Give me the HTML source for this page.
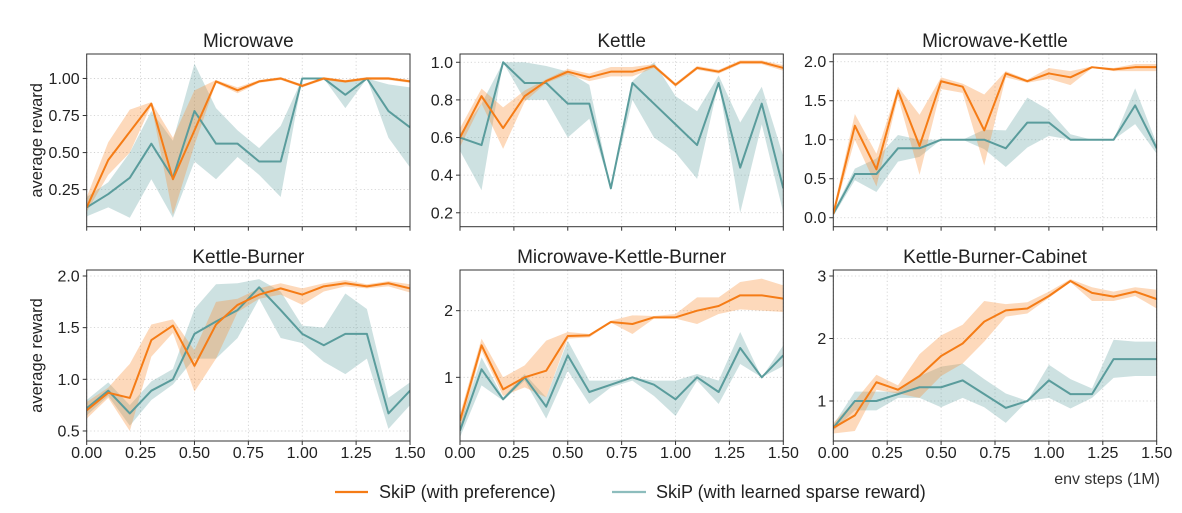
<!DOCTYPE html>
<html><head><meta charset="utf-8"><style>
body{margin:0;background:#fff;}
svg{display:block;font-family:"Liberation Sans",Arial,sans-serif;}
</style></head><body>
<svg id="fig" width="1182" height="513" viewBox="0 0 1182 513">
<g id="plots"></g>
<g>
<line x1="335" y1="492" x2="368" y2="492" stroke="#f57c16" stroke-width="2.2"/>
<text x="379" y="498" font-size="18" fill="#222">SkiP (with preference)</text>
<line x1="612" y1="492" x2="646" y2="492" stroke="#8dbdbd" stroke-width="2.2"/>
<text x="656" y="498" font-size="18" fill="#222">SkiP (with learned sparse reward)</text>
</g>
<text x="1160" y="484" text-anchor="end" font-size="16" fill="#333">env steps (1M)</text>
</svg>
<script>
const steps=[0,0.1,0.2,0.3,0.4,0.5,0.6,0.7,0.8,0.9,1.0,1.1,1.2,1.3,1.4,1.5];
const titles=["Microwave","Kettle","Microwave-Kettle","Kettle-Burner","Microwave-Kettle-Burner","Kettle-Burner-Cabinet"];
const prefMean=[
[0.13,0.45,0.64,0.83,0.32,0.65,0.98,0.92,0.98,1.0,0.95,1.0,0.98,1.0,1.0,0.98],
[0.6,0.82,0.65,0.82,0.9,0.95,0.92,0.95,0.95,0.98,0.88,0.97,0.95,1.0,1.0,0.97],
[0.05,1.18,0.62,1.63,0.92,1.75,1.68,1.12,1.85,1.75,1.85,1.8,1.93,1.9,1.93,1.93],
[0.7,0.87,0.82,1.38,1.52,1.13,1.53,1.72,1.82,1.88,1.82,1.9,1.93,1.9,1.93,1.88],
[0.35,1.48,0.82,1.0,1.1,1.62,1.63,1.83,1.8,1.9,1.9,2.0,2.07,2.23,2.23,2.18],
[0.57,0.77,1.3,1.18,1.4,1.72,1.92,2.27,2.45,2.48,2.68,2.92,2.73,2.67,2.75,2.63]];
const prefLo=[
[0.1,0.35,0.5,0.82,0.08,0.55,0.97,0.9,0.97,0.99,0.94,0.99,0.97,0.99,0.99,0.97],
[0.55,0.78,0.54,0.79,0.89,0.935,0.9,0.925,0.925,0.97,0.87,0.96,0.94,0.99,0.99,0.955],
[0.02,1.0,0.4,1.55,0.55,1.65,1.6,0.67,1.8,1.73,1.78,1.7,1.92,1.88,1.88,1.88],
[0.62,0.82,0.5,1.22,1.45,0.88,1.2,1.65,1.78,1.82,1.72,1.85,1.9,1.88,1.9,1.84],
[0.2,1.4,0.72,0.85,0.7,1.58,1.6,1.82,1.65,1.88,1.88,1.8,1.95,2.02,2.0,1.98],
[0.48,0.52,1.18,1.12,1.05,1.4,1.6,1.95,2.35,2.4,2.65,2.9,2.6,2.6,2.68,2.48]];
const prefHi=[
[0.2,0.57,0.79,0.84,0.6,0.92,0.99,0.94,0.99,1.01,0.96,1.01,0.99,1.01,1.01,0.99],
[0.65,0.86,0.76,0.85,0.91,0.965,0.94,0.975,0.975,0.99,0.89,0.98,0.96,1.01,1.01,0.985],
[0.1,1.33,0.82,1.68,1.32,1.8,1.72,1.58,1.88,1.77,1.92,1.88,1.94,1.92,1.97,1.97],
[0.78,0.92,1.15,1.53,1.58,1.28,1.75,1.78,1.88,1.93,1.88,1.93,1.96,1.92,1.95,1.92],
[0.45,1.58,1.0,1.18,1.55,1.68,1.65,1.85,1.93,1.92,1.95,2.2,2.2,2.43,2.48,2.38],
[0.65,1.0,1.42,1.25,1.75,2.05,2.22,2.6,2.55,2.58,2.75,2.95,2.82,2.75,2.82,2.78]];
const sparseMean=[
[0.13,0.22,0.33,0.56,0.33,0.78,0.56,0.56,0.44,0.44,1.0,1.0,0.89,1.0,0.78,0.67],
[0.6,0.56,1.0,0.89,0.89,0.78,0.78,0.33,0.89,0.78,0.67,0.56,0.89,0.44,0.78,0.33],
[0.05,0.56,0.56,0.89,0.89,1.0,1.0,1.0,0.89,1.22,1.22,1.0,1.0,1.0,1.44,0.89],
[0.72,0.89,0.67,0.89,1.0,1.44,1.56,1.67,1.89,1.67,1.44,1.33,1.44,1.44,0.67,0.89],
[0.2,1.12,0.67,1.0,0.56,1.33,0.78,0.89,1.0,0.89,0.67,1.0,0.78,1.44,1.0,1.33],
[0.57,1.0,1.0,1.11,1.22,1.22,1.33,1.11,0.89,1.0,1.33,1.11,1.11,1.67,1.67,1.67]];
const sparseLo=[
[0.07,0.13,0.06,0.32,0.06,0.44,0.32,0.47,0.35,0.2,1.0,1.0,0.8,1.0,0.6,0.4],
[0.53,0.32,1.0,0.8,0.8,0.6,0.7,0.33,0.8,0.6,0.52,0.38,0.89,0.2,0.67,0.2],
[0.02,0.48,0.33,0.72,0.78,1.0,1.0,0.88,0.65,0.9,1.05,1.0,1.0,1.0,1.2,0.82],
[0.65,0.84,0.55,0.8,0.95,1.2,1.2,1.4,1.78,1.4,1.35,1.17,1.05,1.2,0.52,0.75],
[0.1,0.88,0.65,0.95,0.38,1.1,0.6,0.85,0.95,0.72,0.42,0.95,0.6,1.2,1.0,1.17],
[0.52,0.85,0.85,1.05,1.05,0.9,1.05,0.9,0.65,1.0,1.05,0.88,1.05,1.37,1.4,1.4]];
const sparseHi=[
[0.2,0.3,0.5,0.78,0.58,1.1,0.8,0.65,0.53,0.68,1.0,1.0,0.98,1.0,0.96,0.94],
[0.62,0.78,1.0,1.0,0.98,0.95,0.88,0.33,0.9,1.0,0.82,0.74,0.93,0.68,0.87,0.5],
[0.08,0.63,0.76,1.06,1.0,1.0,1.0,1.13,1.12,1.54,1.38,1.07,1.0,1.0,1.66,0.95],
[0.8,0.97,0.75,0.98,1.1,1.68,1.92,1.93,1.97,1.85,1.52,1.5,1.83,1.68,0.82,0.97],
[0.3,1.3,0.7,1.05,0.7,1.55,0.95,0.95,1.0,0.95,0.95,1.05,0.95,1.68,1.0,1.48],
[0.62,1.15,1.15,1.15,1.4,1.55,1.6,1.35,1.12,1.0,1.58,1.35,1.2,1.98,1.95,1.95]];
const yDomains=[[0,1.165],[0.126,1.044],[-0.115,2.099],[0.403,2.058],[0.045,2.61],[0.36,3.096]];
const yTicks=[[0.25,0.5,0.75,1.0],[0.2,0.4,0.6,0.8,1.0],[0,0.5,1.0,1.5,2.0],[0.5,1.0,1.5,2.0],[1,2],[1,2,3]];
const yTickLabels=[["0.25","0.50","0.75","1.00"],["0.2","0.4","0.6","0.8","1.0"],["0.0","0.5","1.0","1.5","2.0"],["0.5","1.0","1.5","2.0"],["1","2"],["1","2","3"]];
const xTicks=[0,0.25,0.5,0.75,1.0,1.25,1.5];
const xTickLabels=["0.00","0.25","0.50","0.75","1.00","1.25","1.50"];

const NS="http://www.w3.org/2000/svg";
const root=document.getElementById('plots');
const lefts=[86.7,460,833.3],widths=[323.3,323.3,323.4];
const tops=[54,270],heights=[172.7,171];
function mk(tag,attrs,parent){const e=document.createElementNS(NS,tag);for(const k in attrs)e.setAttribute(k,attrs[k]);parent.appendChild(e);return e;}
for(let p=0;p<6;p++){
  const r=Math.floor(p/3),c=p%3;
  const L=lefts[c],W=widths[c],T=tops[r],H=heights[r];
  const [y0,y1]=yDomains[p];
  const sx=v=>L+v/1.5*W;
  const sy=v=>T+H-(v-y0)/(y1-y0)*H;
  const g=mk('g',{},root);
  
  
  const clipId='clip'+p;
  const cp=mk('clipPath',{id:clipId},g);mk('rect',{x:L,y:T,width:W,height:H},cp);
  xTicks.forEach(t=>{const l=mk('line',{x1:sx(t),x2:sx(t),y1:T,y2:T+H,stroke:'#ccc','stroke-width':0.8,'stroke-dasharray':'1.2 2.4'},g);
    });
  yTicks[p].forEach((t,i)=>{const l=mk('line',{x1:L,x2:L+W,y1:sy(t),y2:sy(t),stroke:'#ccc','stroke-width':0.8,'stroke-dasharray':'1.2 2.4'},g);
    
    const tk=mk('line',{x1:L-4,x2:L,y1:sy(t),y2:sy(t),stroke:'#333','stroke-width':1},g);
    
    const tx=mk('text',{x:L-7,y:sy(t)+5.5,'text-anchor':'end','font-size':16,fill:'#222'},g);tx.textContent=yTickLabels[p][i];
    });
  xTicks.forEach((t,i)=>{const tk=mk('line',{x1:sx(t),x2:sx(t),y1:T+H,y2:T+H+4,stroke:'#333','stroke-width':1},g);
    
    if(r===1){const tx=mk('text',{x:sx(t),y:T+H+17,'text-anchor':'middle','font-size':16,fill:'#222'},g);tx.textContent=xTickLabels[i];
      }});
  const series=[[sparseLo[p],sparseHi[p],sparseMean[p],'#5a9c9c','rgba(90,156,156,0.3)','sparse'],[prefLo[p],prefHi[p],prefMean[p],'#f57c16','rgba(250,145,60,0.35)','preference']];
  series.forEach(s=>{
    const up=steps.map((x,i)=>sx(x)+','+sy(s[1][i]));
    const dn=steps.map((x,i)=>sx(x)+','+sy(s[0][i])).reverse();
    const b=mk('polygon',{points:up.concat(dn).join(' '),fill:s[4],'clip-path':'url(#'+clipId+')'},g);
    
  });
  series.forEach(s=>{
    const pl=mk('polyline',{points:steps.map((x,i)=>sx(x)+','+sy(s[2][i])).join(' '),fill:'none',stroke:s[3],'stroke-width':2,'stroke-linejoin':'round','clip-path':'url(#'+clipId+')'},g);
    
  });
  const fr=mk('rect',{x:L,y:T,width:W,height:H,fill:'none',stroke:'#333','stroke-width':1},g);
  
  const ti=mk('text',{x:L+W/2,y:T-7,'text-anchor':'middle','font-size':19,fill:'#222'},g);ti.textContent=titles[p];
  
  if(c===0){const cy=T+H/2;const yt=mk('text',{x:0,y:0,transform:'translate(42,'+cy+') rotate(-90)','text-anchor':'middle','font-size':16.5,fill:'#222'},g);yt.textContent='average reward';
    }
}
</script>
</body></html>
